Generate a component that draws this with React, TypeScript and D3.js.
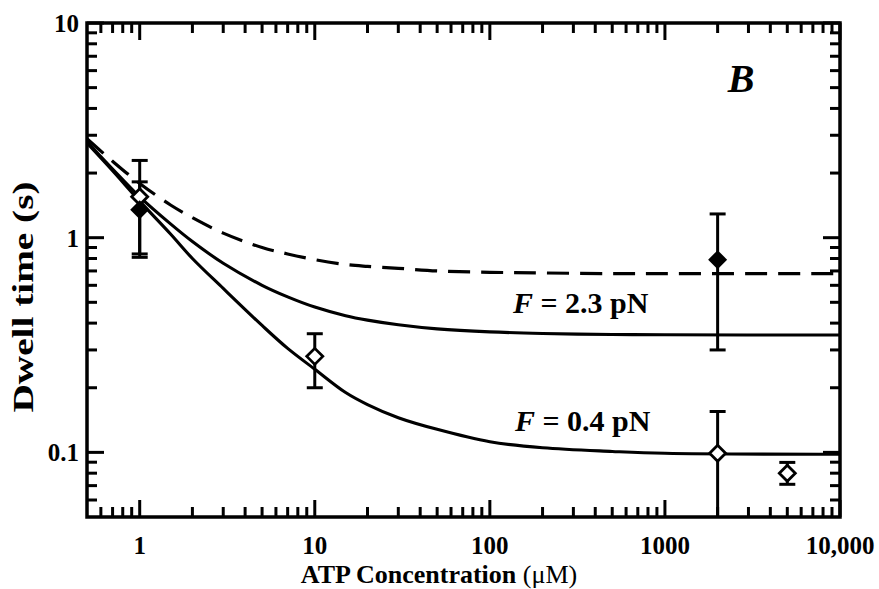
import React from "react";
import * as d3 from "d3";

// ATP concentration (µM) sampled along the fitted curves
const curveX = [0.5, 0.7, 1, 1.5, 2, 3, 5, 7, 10, 15, 20, 30, 50, 100, 200, 500, 1000, 10000];
// dashed fit
const fitDashed = [2.89, 2.27, 1.79, 1.42, 1.24, 1.05, 0.9, 0.84, 0.79, 0.75, 0.735, 0.72, 0.7, 0.69, 0.685, 0.68, 0.68, 0.68];
// F = 2.3 pN fit
const fitHigh = [2.8, 2.09, 1.55, 1.16, 0.96, 0.76, 0.6, 0.53, 0.475, 0.433, 0.413, 0.393, 0.376, 0.364, 0.358, 0.354, 0.353, 0.352];
// F = 0.4 pN fit
const fitLow = [2.76, 2.05, 1.48, 1.04, 0.8, 0.58, 0.39, 0.305, 0.244, 0.19, 0.167, 0.145, 0.128, 0.112, 0.105, 0.101, 0.099, 0.098];

// filled diamonds
const filledX = [1, 2000];
const filledY = [1.35, 0.79];
const filledLo = [0.81, 0.3];
const filledHi = [2.29, 1.29];

// open diamonds
const openX = [1, 10, 2000, 5000];
const openY = [1.55, 0.28, 0.099, 0.08];
const openLo = [0.84, 0.2, 0.04, 0.071];
const openHi = [1.82, 0.357, 0.155, 0.0898];

const xMajor = [1, 10, 100, 1000, 10000];
const xMajorLabels = ["1", "10", "100", "1000", "10,000"];
const yMajor = [0.1, 1, 10];
const yMajorLabels = ["0.1", "1", "10"];

const W = 879;
const H = 589;
const left = 87;
const right = 840;
const top = 23;
const bottom = 517;

export default function App() {
  const x = d3.scaleLog().domain([0.5, 10000]).range([left, right]);
  const y = d3.scaleLog().domain([0.05, 10]).range([bottom, top]);

  const line = d3
    .line<number>()
    .x((_, i) => x(curveX[i]))
    .y((d) => y(d))
    .curve(d3.curveCatmullRom.alpha(0.5));

  const xMinor: number[] = [];
  for (const dec of [0.1, 1, 10, 100, 1000]) {
    for (let m = 2; m <= 9; m++) {
      const v = m * dec;
      if (v > 0.5 && v < 10000) xMinor.push(v);
    }
  }
  const yMinor: number[] = [];
  for (const dec of [0.01, 0.1, 1]) {
    for (let m = 2; m <= 9; m++) {
      const v = m * dec;
      if (v > 0.05 && v < 10) yMinor.push(v);
    }
  }

  const majLen = 17;
  const minLen = 10;
  const tickW = 3;
  const font = "'Liberation Serif', 'Times New Roman', serif";

  const diamond = (cx: number, cy: number, r: number) =>
    `M${cx},${cy - r}L${cx + r},${cy}L${cx},${cy + r}L${cx - r},${cy}Z`;

  const errorBar = (xv: number, lo: number, hi: number, key: string) => {
    const cx = x(xv);
    const capW = 8;
    return (
      <g key={key} stroke="#000" strokeWidth={3}>
        <line x1={cx} x2={cx} y1={y(hi)} y2={y(lo)} />
        <line x1={cx - capW} x2={cx + capW} y1={y(hi)} y2={y(hi)} />
        {lo > 0.05 && <line x1={cx - capW} x2={cx + capW} y1={y(lo)} y2={y(lo)} />}
      </g>
    );
  };

  return (
    <svg
      width={W}
      height={H}
      style={{ position: "absolute", left: 0, top: 0, background: "#fff" }}
      fontFamily={font}
    >
      <defs>
        <clipPath id="plotClip">
          <rect x={left} y={top} width={right - left} height={bottom - top} />
        </clipPath>
      </defs>
      <rect x={0} y={0} width={W} height={H} fill="#fff" />

      <g clipPath="url(#plotClip)" fill="none" stroke="#000">
        <path d={line(fitDashed) || ""} strokeWidth={3.2} strokeDasharray="22 11" />
        <path d={line(fitHigh) || ""} strokeWidth={3.1} />
        <path d={line(fitLow) || ""} strokeWidth={3.1} />
      </g>

      <g clipPath="url(#plotClip)">
        {filledX.map((v, i) => errorBar(v, filledLo[i], filledHi[i], `fe${i}`))}
        {openX.map((v, i) => errorBar(v, openLo[i], openHi[i], `oe${i}`))}
        {openX.map((v, i) => (
          <path
            key={`o${i}`}
            d={diamond(x(v), y(openY[i]), 8)}
            fill="#fff"
            stroke="#000"
            strokeWidth={2.8}
          />
        ))}
        {filledX.map((v, i) => (
          <path key={`f${i}`} d={diamond(x(v), y(filledY[i]), 9.5)} fill="#000" />
        ))}
      </g>

      {/* ticks on all four sides, pointing inward */}
      <g stroke="#000" strokeWidth={tickW}>
        {xMajor.map((v) => (
          <g key={`xm${v}`}>
            <line x1={x(v)} x2={x(v)} y1={bottom} y2={bottom - majLen} />
            <line x1={x(v)} x2={x(v)} y1={top} y2={top + majLen} />
          </g>
        ))}
        {xMinor.map((v) => (
          <g key={`xn${v}`}>
            <line x1={x(v)} x2={x(v)} y1={bottom} y2={bottom - minLen} />
            <line x1={x(v)} x2={x(v)} y1={top} y2={top + minLen} />
          </g>
        ))}
        {yMajor.map((v) => (
          <g key={`ym${v}`}>
            <line x1={left} x2={left + majLen} y1={y(v)} y2={y(v)} />
            <line x1={right} x2={right - majLen} y1={y(v)} y2={y(v)} />
          </g>
        ))}
        {yMinor.map((v) => (
          <g key={`yn${v}`}>
            <line x1={left} x2={left + minLen} y1={y(v)} y2={y(v)} />
            <line x1={right} x2={right - minLen} y1={y(v)} y2={y(v)} />
          </g>
        ))}
      </g>

      <rect
        x={left}
        y={top}
        width={right - left}
        height={bottom - top}
        fill="none"
        stroke="#000"
        strokeWidth={3.5}
      />

      {/* tick labels */}
      <g fontWeight="bold" fontSize={25} fill="#000">
        {xMajor.map((v, i) => (
          <text key={`xl${v}`} x={x(v)} y={554} textAnchor="middle">
            {xMajorLabels[i]}
          </text>
        ))}
        {yMajor.map((v, i) => (
          <text key={`yl${v}`} x={79} y={y(v) + 9} textAnchor="end">
            {yMajorLabels[i]}
          </text>
        ))}
      </g>

      {/* axis titles */}
      <text x={439} y={583} textAnchor="middle" fontSize={26} fontWeight="bold">
        ATP Concentration <tspan fontWeight="normal">(μM)</tspan>
      </text>
      <text
        transform="translate(33,297) rotate(-90)"
        textAnchor="middle"
        fontSize={30}
        fontWeight="bold"
        textLength={231}
        lengthAdjust="spacingAndGlyphs"
      >
        Dwell time (s)
      </text>

      {/* annotations */}
      <text x={741} y={92} textAnchor="middle" fontSize={40} fontWeight="bold" fontStyle="italic">
        B
      </text>
      <text x={513} y={313} fontSize={30} fontWeight="bold">
        <tspan fontStyle="italic">F</tspan> = 2.3 pN
      </text>
      <text x={515} y={431} fontSize={30} fontWeight="bold">
        <tspan fontStyle="italic">F</tspan> = 0.4 pN
      </text>
    </svg>
  );
}
